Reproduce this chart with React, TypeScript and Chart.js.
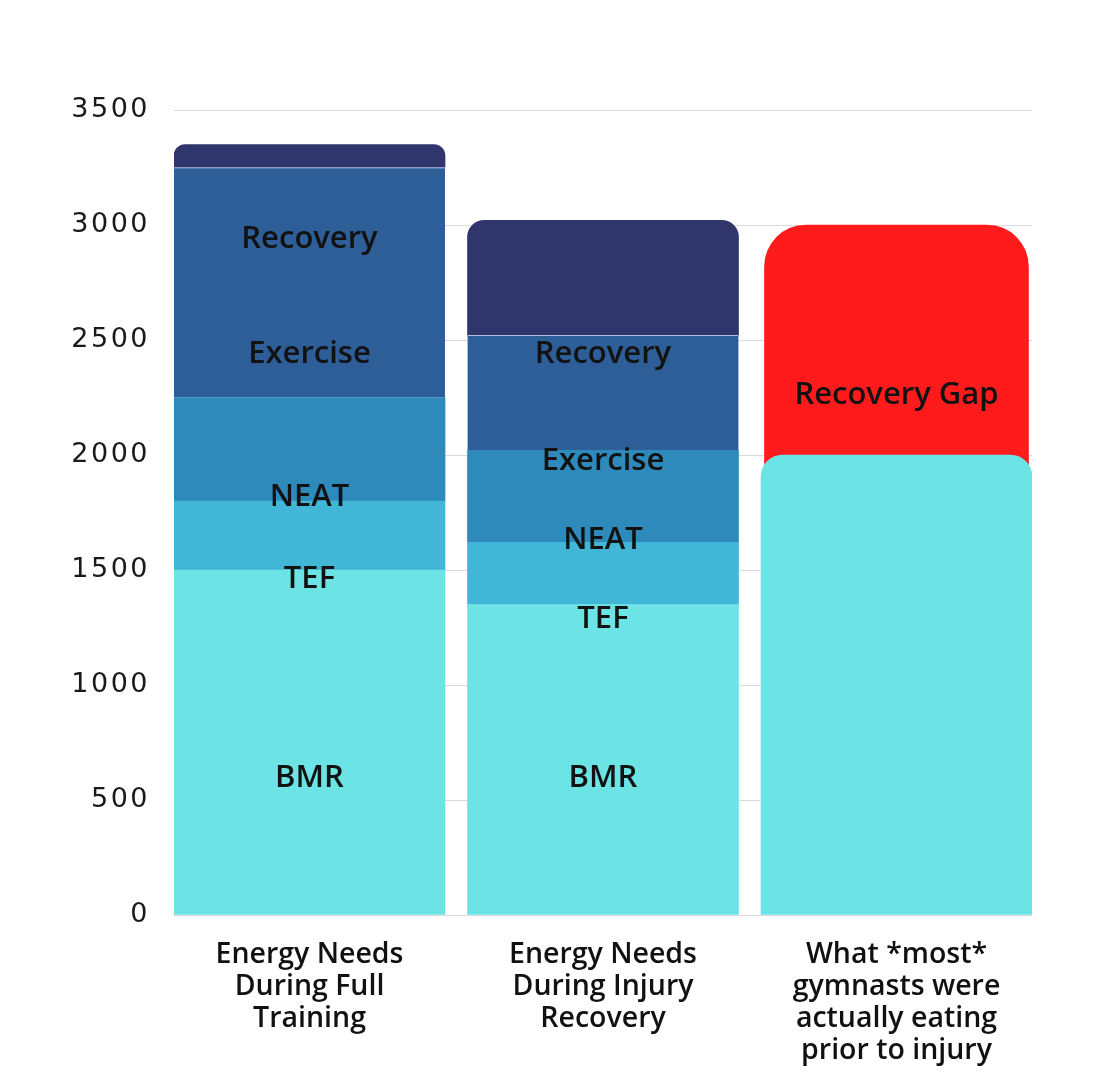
import React, { useEffect, useRef } from "react";
import { Chart, registerables } from "chart.js";

Chart.register(...registerables);

// ---- data ----
const categories: string[][] = [
  ["Energy Needs", "During Full", "Training"],
  ["Energy Needs", "During Injury", "Recovery"],
  ["What *most*", "gymnasts were", "actually eating", "prior to injury"],
];
const segmentNames = ["BMR", "TEF", "NEAT", "Exercise", "Recovery", "Recovery Gap"];
const bmr = [1500, 1350, 2000];
const tef = [300, 270, 0];
const neat = [450, 400, 0];
const exercise = [1000, 500, 0];
const recovery = [100, 500, 0];
const recoveryGap = [0, 0, 1000];

const yMin = 0;
const yMax = 3500;
const yStep = 500;

// in-bar text labels and the kcal value at which each sits
const bar1Labels = ["Recovery", "Exercise", "NEAT", "TEF", "BMR"];
const bar1LabelValues = [2940, 2440, 1815, 1462, 595];
const bar2Labels = ["Recovery", "Exercise", "NEAT", "TEF", "BMR"];
const bar2LabelValues = [2438, 1972, 1628, 1288, 595];
const bar3Labels = ["Recovery Gap"];
const bar3LabelValues = [2258];

// ---- styles ----
const colors = ["#6CE4E6", "#41B6D6", "#2D8ABA", "#2E5E97", "#30356B", "#FF1A1C"];
const labelSets = [
  { names: bar1Labels, values: bar1LabelValues },
  { names: bar2Labels, values: bar2LabelValues },
  { names: bar3Labels, values: bar3LabelValues },
];

export default function App() {
  const canvasRef = useRef<HTMLCanvasElement | null>(null);

  useEffect(() => {
    const canvas = canvasRef.current;
    if (!canvas) return;

    const series = [bmr, tef, neat, exercise, recovery, recoveryGap];
    const gapOverlap = 120; // red bar continues hidden behind the cyan bar

    const datasets = series.map((vals, si) => ({
      label: segmentNames[si],
      data: vals
        .map((v, i) => {
          if (!v) return null;
          let start = 0;
          for (let k = 0; k < si; k++) start += series[k][i];
          const base = si === 5 ? start - gapOverlap : start;
          return { x: i, y: [base, start + v] };
        })
        .filter((p) => p !== null),
      backgroundColor: colors[si],
      borderColor: si === 3 ? "rgba(190,205,235,0.9)" : colors[si],
      borderWidth: si === 3 ? { top: 1, left: 0, right: 0, bottom: 0 } : 0,
      barThickness: si === 5 ? 264 : 271,
      borderSkipped: "start" as const,
      borderRadius: (ctx: any) => {
        let r = 0;
        if (si === 4) r = 17;
        if (si === 5) r = 42;
        if (si === 0 && ctx.raw && ctx.raw.x === 2) r = 22;
        return { topLeft: r, topRight: r, bottomLeft: 0, bottomRight: 0 };
      },
    }));

    const barLabelPlugin = {
      id: "barLabels",
      afterDatasetsDraw(chart: any) {
        const { ctx, scales } = chart;
        const xs = scales.x;
        const ys = scales.y;
        ctx.save();
        ctx.font = "600 31px 'Open Sans'";
        ctx.fillStyle = "#121212";
        ctx.textAlign = "center";
        ctx.textBaseline = "middle";
        labelSets.forEach((set, i) => {
          set.names.forEach((n, k) => {
            ctx.fillText(n, xs.getPixelForValue(i), ys.getPixelForValue(set.values[k]));
          });
        });
        ctx.restore();
        ctx.letterSpacing = "2.5px";
      },
      afterDraw(chart: any) {
        chart.ctx.letterSpacing = "0px";
      },
    };

    const chart = new Chart(canvas, {
      type: "bar",
      data: { datasets: datasets as any },
      plugins: [barLabelPlugin],
      options: {
        animation: false,
        responsive: true,
        maintainAspectRatio: false,
        layout: { padding: { top: 110, right: 75, bottom: 0, left: 0 } },
        plugins: {
          legend: { display: false },
          tooltip: { enabled: false },
        },
        datasets: { bar: { grouped: false } } as any,
        scales: {
          x: {
            type: "linear",
            offset: false,
            min: -0.4617,
            max: 2.4617,
            afterBuildTicks: (scale: any) => {
              scale.ticks = categories.map((_, i) => ({ value: i }));
            },
            afterFit: (scale: any) => {
              scale.height = 165;
            },
            grid: { display: false, drawTicks: false },
            border: { display: false },
            ticks: {
              autoSkip: false,
              maxRotation: 0,
              minRotation: 0,
              padding: 24,
              color: "#111111",
              font: { family: "'Open Sans'", size: 28.5, weight: 600 as any, lineHeight: 32 / 28.5 },
              callback: (v: any) => categories[Math.round(Number(v))] ?? "",
            },
          },
          y: {
            min: yMin,
            max: yMax,
            afterFit: (scale: any) => {
              scale.width = 174;
            },
            grid: { color: "#dadada", lineWidth: 1, drawTicks: false },
            border: { display: false },
            ticks: {
              stepSize: yStep,
              padding: 24,
              z: 1,
              color: "#1a1a1a",
              font: { family: "DejaVu Sans", size: 27, weight: "normal" },
              callback: (v: any) => String(v),
            },
          },
        },
      },
    });

    return () => chart.destroy();
  }, []);

  return (
    <div style={{ position: "absolute", left: 0, top: 0, width: 1107, height: 1080, background: "#ffffff" }}>
      <canvas ref={canvasRef} />
    </div>
  );
}
